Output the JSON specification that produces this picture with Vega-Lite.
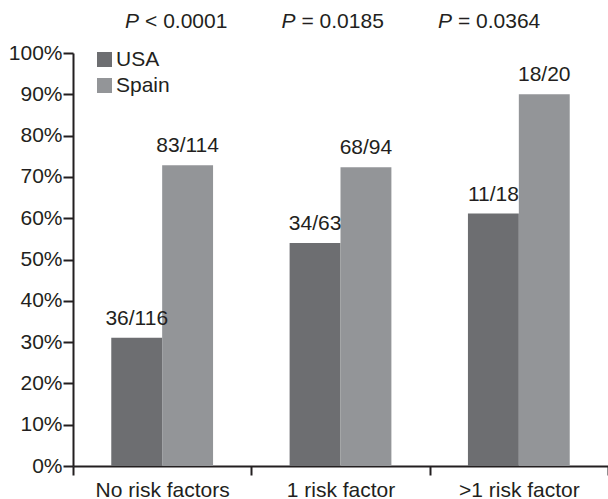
{
  "$schema": "https://vega.github.io/schema/vega-lite/v6.json",
  "width": 535,
  "height": 413,
  "autosize": {"type": "none"},
  "padding": {"left": 73, "top": 53, "right": 0, "bottom": 33},
  "background": "white",
  "config": {
    "view": {"stroke": null},
    "font": "Liberation Sans",
    "axis": {
      "domainColor": "#231f20",
      "domainWidth": 2,
      "tickColor": "#231f20",
      "tickWidth": 2,
      "labelColor": "#231f20",
      "labelFont": "Liberation Sans",
      "labelFontSize": 21,
      "grid": false,
      "title": null
    }
  },
  "datasets": {
    "bars": [
      {"group": "No risk factors", "country": "USA", "pct": 31.03, "label": "36/116"},
      {"group": "No risk factors", "country": "Spain", "pct": 72.81, "label": "83/114"},
      {"group": "1 risk factor", "country": "USA", "pct": 53.97, "label": "34/63"},
      {"group": "1 risk factor", "country": "Spain", "pct": 72.34, "label": "68/94"},
      {"group": ">1 risk factor", "country": "USA", "pct": 61.11, "label": "11/18"},
      {"group": ">1 risk factor", "country": "Spain", "pct": 90.0, "label": "18/20"}
    ],
    "pvals": [
      {"group": "No risk factors", "stat": "< 0.0001"},
      {"group": "1 risk factor", "stat": "= 0.0185"},
      {"group": ">1 risk factor", "stat": "= 0.0364"}
    ]
  },
  "layer": [
    {
      "data": {"name": "bars"},
      "encoding": {
        "x": {
          "field": "group",
          "type": "nominal",
          "sort": ["No risk factors", "1 risk factor", ">1 risk factor"],
          "scale": {"paddingInner": 0, "paddingOuter": 0},
          "axis": {"labelAngle": 0, "tickBand": "extent", "tickSize": 9, "labelPadding": 4}
        },
        "xOffset": {
          "field": "country",
          "sort": ["USA", "Spain"],
          "scale": {"paddingInner": 0, "paddingOuter": 0.752}
        },
        "y": {
          "field": "pct",
          "type": "quantitative",
          "scale": {"domain": [0, 100]},
          "axis": {
            "values": [0, 10, 20, 30, 40, 50, 60, 70, 80, 90, 100],
            "labelExpr": "datum.value + '%'",
            "tickSize": 10,
            "labelPadding": 1
          }
        }
      },
      "layer": [
        {
          "mark": {"type": "bar"},
          "encoding": {
            "color": {
              "field": "country",
              "type": "nominal",
              "sort": ["USA", "Spain"],
              "scale": {"domain": ["USA", "Spain"], "range": ["#6d6e71", "#939598"]},
              "legend": {
                "orient": "none",
                "legendX": 21,
                "legendY": -4,
                "title": null,
                "symbolType": "square",
                "symbolSize": 225,
                "symbolStrokeWidth": 0,
                "symbolOpacity": 1,
                "labelFontSize": 21,
                "labelFont": "Liberation Sans",
                "labelColor": "#231f20",
                "labelOffset": 1,
                "rowPadding": 4,
                "padding": 0
              }
            }
          }
        },
        {
          "mark": {"type": "text", "baseline": "alphabetic", "dy": -13, "fontSize": 21, "color": "#231f20", "font": "Liberation Sans"},
          "encoding": {"text": {"field": "label"}}
        }
      ]
    },
    {
      "data": {"name": "pvals"},
      "encoding": {
        "x": {
          "field": "group",
          "type": "nominal",
          "sort": ["No risk factors", "1 risk factor", ">1 risk factor"],
          "scale": {"type": "point", "padding": 0.71},
          "axis": null
        },
        "y": {"datum": 100}
      },
      "layer": [
        {
          "mark": {"type": "text", "align": "left", "baseline": "alphabetic", "dx": -59, "dy": -25, "fontSize": 21, "fontStyle": "italic", "color": "#231f20", "font": "Liberation Sans"},
          "encoding": {"text": {"value": "P"}}
        },
        {
          "mark": {"type": "text", "align": "left", "baseline": "alphabetic", "dx": -39, "dy": -25, "fontSize": 21, "color": "#231f20", "font": "Liberation Sans"},
          "encoding": {"text": {"field": "stat"}}
        }
      ]
    }
  ],
  "resolve": {"scale": {"x": "independent"}}
}
